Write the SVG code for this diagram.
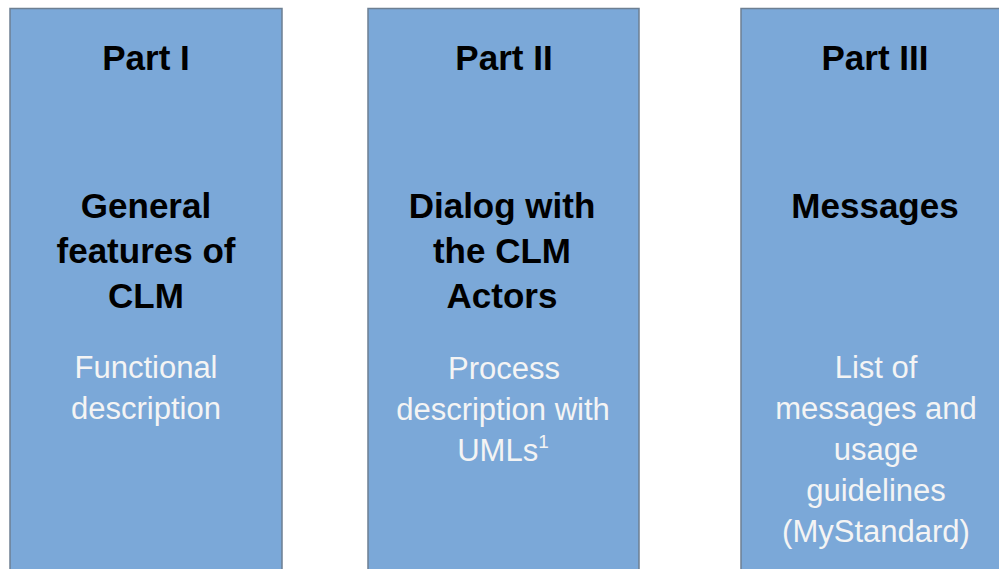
<svg xmlns="http://www.w3.org/2000/svg" width="999" height="569" viewBox="0 0 999 569">
<style>
.box{fill:#7ba8d8;stroke:#6d7f92;stroke-width:1.5}
.h{font-family:"Liberation Sans",Arial,sans-serif;font-weight:bold;font-size:35px;fill:#000;text-anchor:middle}
.b{font-family:"Liberation Sans",Arial,sans-serif;font-size:31px;fill:#f4f4f4;text-anchor:middle}
</style>
<rect width="999" height="569" fill="#fff"/>
<g id="part1">
<rect class="box" x="10" y="8.5" width="272" height="570"/>
<text class="h" x="146" y="70">Part I</text>
<text class="h" x="146" y="218">General</text>
<text class="h" x="146" y="263">features of</text>
<text class="h" x="146" y="308">CLM</text>
<text class="b" x="146" y="378">Functional</text>
<text class="b" x="146" y="419">description</text>
</g>
<g id="part2">
<rect class="box" x="368" y="8.5" width="271" height="570"/>
<text class="h" x="504" y="70">Part II</text>
<text class="h" x="502" y="218">Dialog with</text>
<text class="h" x="502" y="263">the CLM</text>
<text class="h" x="502" y="308">Actors</text>
<text class="b" x="504" y="379">Process</text>
<text class="b" x="503" y="420">description with</text>
<text class="b" x="503" y="461">UMLs<tspan font-size="19" dy="-13">1</tspan></text>
</g>
<g id="part3">
<rect class="box" x="741" y="8.5" width="272" height="570"/>
<text class="h" x="875" y="70">Part III</text>
<text class="h" x="875" y="218">Messages</text>
<text class="b" x="876" y="378">List of</text>
<text class="b" x="876" y="419">messages and</text>
<text class="b" x="876" y="460">usage</text>
<text class="b" x="876" y="501">guidelines</text>
<text class="b" x="876" y="542">(MyStandard)</text>
</g>
<g id="connectors"/>
</svg>
